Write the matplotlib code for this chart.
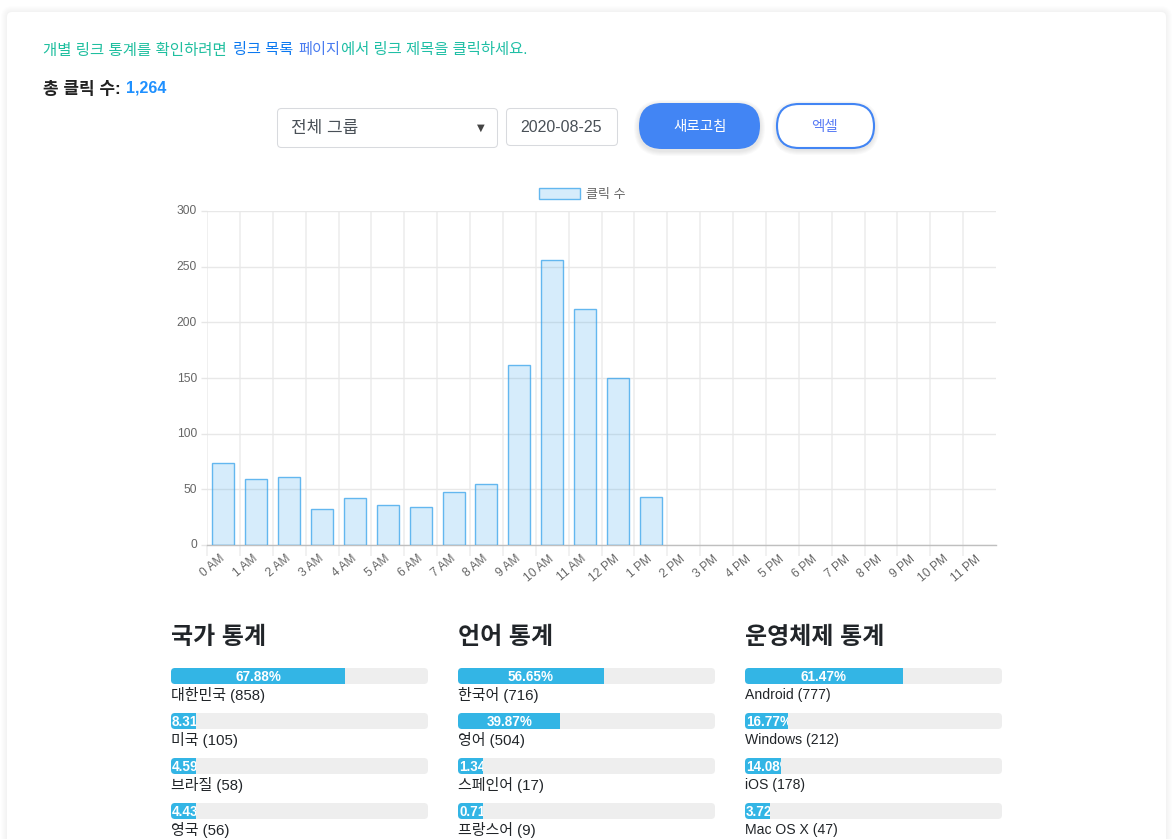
import matplotlib
matplotlib.use('Agg')
import matplotlib.pyplot as plt
from matplotlib.patches import FancyBboxPatch, Patch
from matplotlib.transforms import ScaledTranslation

plt.rcParams['font.family'] = ['Liberation Sans', 'Noto Sans CJK KR', 'DejaVu Sans']

W, H = 1175, 839

# Chart data
hours = ['0 AM', '1 AM', '2 AM', '3 AM', '4 AM', '5 AM', '6 AM', '7 AM', '8 AM', '9 AM', '10 AM', '11 AM',
         '12 PM', '1 PM', '2 PM', '3 PM', '4 PM', '5 PM', '6 PM', '7 PM', '8 PM', '9 PM', '10 PM', '11 PM']
clicks = [74, 59, 61, 32, 42, 36, 34, 48, 55, 162, 256, 212, 150, 43, 0, 0, 0, 0, 0, 0, 0, 0, 0, 0]
y_ticks = [0, 50, 100, 150, 200, 250, 300]

# Stat columns
country_names = ['대한민국 (858)', '미국 (105)', '브라질 (58)', '영국 (56)']
country_pct = [67.88, 8.31, 4.59, 4.43]
language_names = ['한국어 (716)', '영어 (504)', '스페인어 (17)', '프랑스어 (9)']
language_pct = [56.65, 39.87, 1.34, 0.71]
os_names = ['Android (777)', 'Windows (212)', 'iOS (178)', 'Mac OS X (47)']
os_pct = [61.47, 16.77, 14.08, 3.72]


def px(size):
    # css pixels to points at dpi 100
    return size * 0.72


def box(ax, x0, y0, x1, y1, radius, **kwargs):
    patch = FancyBboxPatch((x0 + radius, y0 + radius), x1 - x0 - 2 * radius, y1 - y0 - 2 * radius,
                           boxstyle=f'round,pad={radius},rounding_size={radius}', **kwargs)
    ax.add_patch(patch)
    return patch


def shadow(ax, x0, y0, x1, y1, radius, spread, alpha, dy=0):
    for s in range(spread, 0, -1):
        box(ax, x0 - s, y0 - s + dy, x1 + s, y1 + s + dy, radius + s, facecolor='black',
            edgecolor='none', alpha=alpha)


fig = plt.figure(figsize=(W / 100, H / 100), dpi=100, facecolor='#ffffff')

# Page layer in pixel coordinates
page = fig.add_axes([0, 0, 1, 1])
page.set_xlim(0, W)
page.set_ylim(H, 0)
page.axis('off')

shadow(page, 7, 12, 1166, 900, 5, 6, 0.008)
box(page, 7, 12, 1166, 900, 5, facecolor='white', edgecolor='none')

# Top notice
page.text(43, 50, '개별 링크 통계를 확인하려면', fontsize=px(15.5), color='#1fbf9f', va='center')
page.text(233, 50, '링크 목록', fontsize=px(15.2), color='#0a78f0', va='center')
page.text(298, 50, '페이지', fontsize=px(15.2), color='#4a7cf0', va='center')
page.text(341, 50, '에서 링크 제목을 클릭하세요.', fontsize=px(15.4), color='#1fbfa5', va='center')

page.text(43, 89, '총 클릭 수:', fontsize=px(17), fontweight='bold', color='#222222', va='center')
page.text(126, 88, '1,264', fontsize=px(16), fontweight='bold', color='#1e90ff', va='center')

# Form controls
box(page, 277.5, 108.5, 497.5, 147.5, 4, facecolor='white', edgecolor='#d8dade', linewidth=0.75)
page.text(291, 129, '전체 그룹', fontsize=px(17), color='#495057', va='center')
page.text(481, 128, '▼', fontsize=px(10), color='#444444', va='center', ha='center',
          family=['DejaVu Sans'])
box(page, 506.5, 108.5, 617.5, 145.5, 4, facecolor='white', edgecolor='#d8dade', linewidth=0.75)
page.text(520, 127, '2020-08-25', fontsize=px(16), color='#495057', va='center')

shadow(page, 639, 103, 760, 149, 23, 5, 0.018, dy=2)
box(page, 639, 103, 760, 149, 23, facecolor='#4285f4', edgecolor='none')
page.text(700, 127, '새로고침', fontsize=px(14.5), color='white', va='center', ha='center')

shadow(page, 777, 104, 874, 148, 22, 5, 0.018, dy=2)
box(page, 777, 104, 874, 148, 22, facecolor='white', edgecolor='#4285f4', linewidth=1.5)
page.text(825, 127, '엑셀', fontsize=px(14.5), color='#5a7cf5', va='center', ha='center')

# Bar chart
chart = fig.add_axes([207 / W, 1 - 545 / H, 789 / W, 334 / H])
chart.patch.set_alpha(0)
bars = chart.bar(range(len(hours)), clicks, width=0.67, facecolor=(54 / 255, 162 / 255, 235 / 255, 0.2),
                 edgecolor=(54 / 255, 162 / 255, 235 / 255, 0.75), linewidth=1, zorder=3)
for bar, value in zip(bars, clicks):
    if value == 0:
        bar.set_visible(False)
chart.set_xlim(-0.5, len(hours) - 0.5)
chart.set_ylim(0, 300)
chart.set_yticks(y_ticks)
chart.set_xticks(range(len(hours)))
chart.set_xticklabels(hours, rotation=40, ha='right', va='center', rotation_mode='anchor',
                      fontsize=px(12), color='#666666')
# no gridline on the right edge of the chart
chart.set_xticks([i - 0.5 for i in range(len(hours))], minor=True)
chart.tick_params(axis='x', which='major', length=0, pad=9)
chart.tick_params(axis='x', which='minor', length=8, width=1.3, color='#f0f0f0')
chart.tick_params(axis='y', length=4.5, width=1, color='#e6e6e6', labelsize=px(12), labelcolor='#666666', pad=2)
chart.grid(True, axis='y', color='#e8e8e8', linewidth=1, zorder=0)
chart.grid(True, axis='x', which='minor', color='#efefef', linewidth=1.3, zorder=0)
chart.set_axisbelow(True)
for side in ['top', 'right', 'left']:
    chart.spines[side].set_visible(False)
chart.spines['bottom'].set_color('#bfbfbf')
chart.spines['bottom'].set_linewidth(1)

# nudge tick labels the way the canvas places them
for label in chart.get_yticklabels():
    label.set_transform(label.get_transform() + ScaledTranslation(-1 / 100, 1 / 100, fig.dpi_scale_trans))

swatch = Patch(facecolor=(54 / 255, 162 / 255, 235 / 255, 0.2), edgecolor=(54 / 255, 162 / 255, 235 / 255, 0.75),
               linewidth=1)
chart.legend([swatch], ['클릭 수'], loc='lower center', bbox_to_anchor=(0.476, 0.991), frameon=False,
             fontsize=px(13), labelcolor='#666666', handlelength=3.15, handleheight=1.0, handletextpad=0.45,
             borderaxespad=0.6)

# Stat columns
columns = [
    ('국가 통계', 171, country_names, country_pct, 15),
    ('언어 통계', 458, language_names, language_pct, 15),
    ('운영체제 통계', 745, os_names, os_pct, 14),
]
bar_w = 257
row_step = 45
row_top = 668
min_pct = 9.8  # bars have a min width in the page

for title, left, names, pcts, name_size in columns:
    page.text(left, 637, title, fontsize=px(24), fontweight='bold', color='#212529', va='center')
    ax = fig.add_axes([left / W, 1 - (row_top + 8 + 3.5 * row_step) / H, bar_w / W, 4 * row_step / H])
    ax.patch.set_alpha(0)
    ax.set_xlim(0, 100)
    ax.set_ylim(3.5, -0.5)
    ax.axis('off')
    for i, (name, pct) in enumerate(zip(names, pcts)):
        top = row_top + i * row_step
        clip = FancyBboxPatch((left + 4, top + 4), bar_w - 8, 8, boxstyle='round,pad=4,rounding_size=4',
                              transform=page.transData)
        track = ax.barh(i, 100, height=16 / row_step, color='#eeeeee', linewidth=0)[0]
        track.set_clip_path(clip)
        shown = max(pct, min_pct)
        fill = ax.barh(i, shown, height=16 / row_step, color='#33b5e5', linewidth=0)[0]
        fill.set_clip_path(clip)
        label = f'{pct:.2f}%'
        if pct > 20:
            txt = ax.text(shown / 2, i + 0.02, label, fontsize=px(13.5), fontweight='bold', color='white',
                          ha='center', va='center')
        else:
            txt = ax.text(0.4, i + 0.02, label, fontsize=px(13.5), fontweight='bold', color='white',
                          ha='left', va='center')
        txt.set_clip_on(True)
        txt.set_clip_path(fill)
        ax.text(0, i + 19 / row_step, name, fontsize=px(name_size), color='#212529', ha='left', va='center',
                clip_on=False)

fig.savefig('out.png', dpi=100)
